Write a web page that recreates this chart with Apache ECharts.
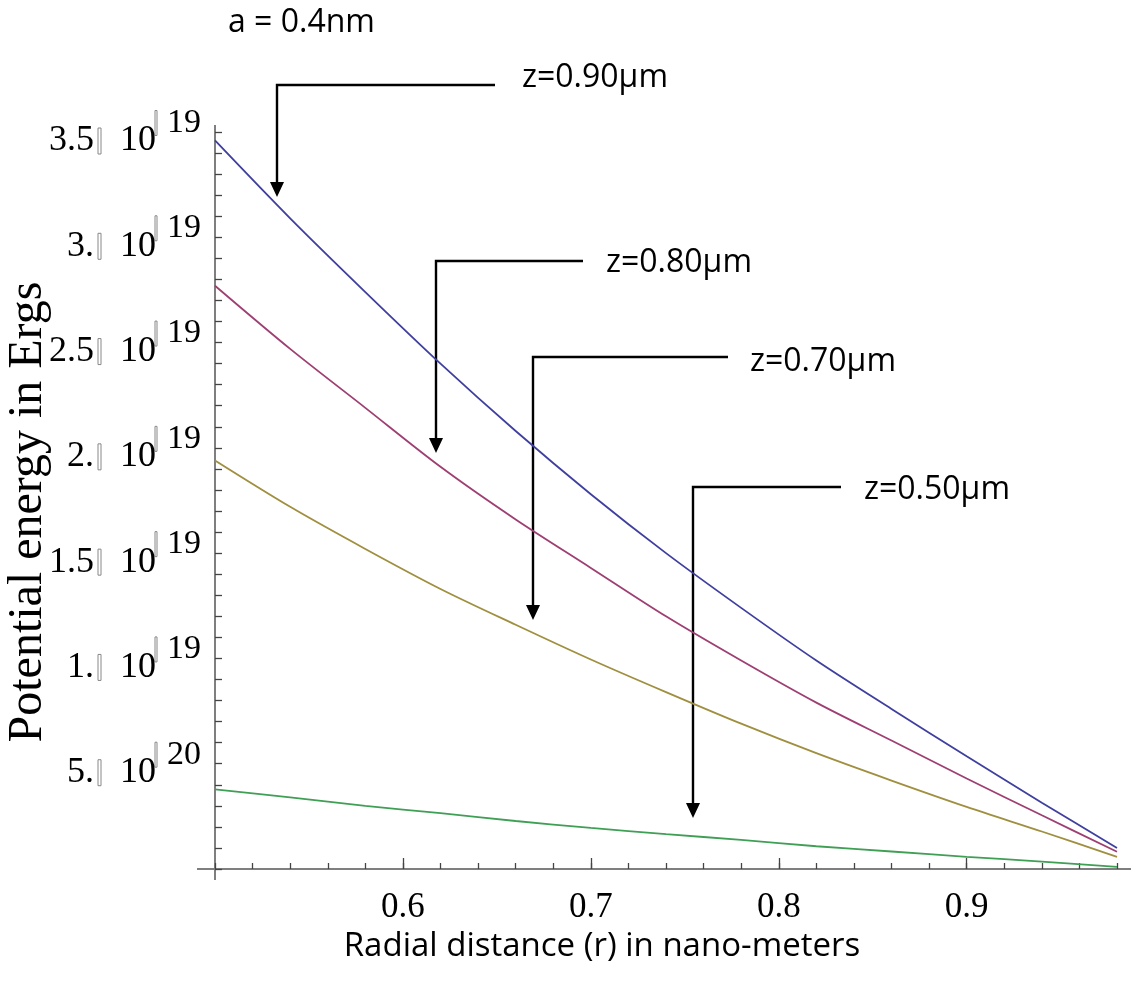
<!DOCTYPE html>
<html>
<head>
<meta charset="utf-8">
<script src="https://cdn.jsdelivr.net/npm/echarts@6/dist/echarts.min.js"></script>
<style>
  html, body { margin: 0; padding: 0; background: #ffffff; }
  #chart { width: 1131px; height: 994px; }
</style>
</head>
<body>
<div id="chart"></div>
<script>
// Radial distance r (nm) at which each curve is sampled
const radius = [0.50, 0.54, 0.58, 0.62, 0.66, 0.70, 0.74, 0.78, 0.82, 0.86, 0.90, 0.94, 0.98];

// Potential energy, in units of 1e-19 erg, for each separation z
const energyZ090 = [3.46, 3.09, 2.74, 2.40, 2.08, 1.78, 1.50, 1.24, 0.99, 0.76, 0.535, 0.315, 0.10];
const energyZ080 = [2.77, 2.47, 2.19, 1.91, 1.66, 1.43, 1.20, 0.99, 0.79, 0.61, 0.43, 0.255, 0.082];
const energyZ070 = [1.94, 1.72, 1.52, 1.33, 1.16, 0.995, 0.84, 0.69, 0.55, 0.42, 0.295, 0.178, 0.058];
const energyZ050 = [0.378, 0.34, 0.30, 0.265, 0.228, 0.195, 0.166, 0.138, 0.108, 0.083, 0.058, 0.035, 0.010];

const seriesNames = ['z=0.90µm', 'z=0.80µm', 'z=0.70µm', 'z=0.50µm'];
const seriesColors = ['#3f3f9f', '#9e3f72', '#9f8f3f', '#3f9f55'];

// Axis ticks and their labels
const xMajorTicks = [0.6, 0.7, 0.8, 0.9];
const yTickValues = [0.5, 1.0, 1.5, 2.0, 2.5, 3.0, 3.5];
const yTickMantissa = ['5.', '1.', '1.5', '2.', '2.5', '3.', '3.5'];
const yTickExponent = ['20', '19', '19', '19', '19', '19', '19'];

const serif = 'Liberation Serif';
const sans = 'Open Sans';

const chart = echarts.init(document.getElementById('chart'), null, { renderer: 'canvas' });

function yLabel(value) {
  const i = yTickValues.findIndex(t => Math.abs(t - value) < 1e-6);
  if (i < 0) return '';
  return '{sb|}{g2|}{sup|' + yTickExponent[i] + '}\n' +
         '{m|' + yTickMantissa[i] + '}{g0|}{bx|}{g1|}{m|10}{tail|}';
}

const lineSeries = [energyZ090, energyZ080, energyZ070, energyZ050].map((vals, k) => ({
  name: seriesNames[k],
  type: 'line',
  xAxisIndex: 0,
  yAxisIndex: 0,
  smooth: 0.3,
  showSymbol: false,
  silent: true,
  lineStyle: { color: seriesColors[k], width: 1.8 },
  data: radius.map((r, j) => [r, vals[j]])
}));

// Annotation arrows: a bent leader line ending in a filled arrowhead
function arrow(xLabelEnd, yTop, xDown, yTip) {
  return [
    {
      type: 'polyline', silent: true,
      shape: { points: [[xLabelEnd, yTop], [xDown, yTop], [xDown, yTip - 12]] },
      style: { stroke: '#000', lineWidth: 2.4, fill: null }
    },
    {
      type: 'polygon', silent: true,
      shape: { points: [[xDown - 7, yTip - 15], [xDown + 7, yTip - 15], [xDown, yTip]] },
      style: { fill: '#000' }
    }
  ];
}

function note(text, x, y) {
  return {
    type: 'text', silent: true, x: x, y: y,
    style: { text: text, fill: '#000', font: '32px "' + sans + '"', textVerticalAlign: 'middle', textAlign: 'left' }
  };
}

const axisGray = '#7f7f7f';

chart.setOption({
  animation: false,
  backgroundColor: '#ffffff',
  grid: { left: 215, right: 14, top: 132, bottom: 125, containLabel: false, outerBoundsMode: 'none' },
  xAxis: [
    {
      type: 'value', min: 0.5, max: 0.98, position: 'bottom',
      axisLine: { show: true, onZero: false, lineStyle: { color: axisGray, width: 2 } },
      axisTick: { show: true, inside: true, length: 11, customValues: xMajorTicks,
                  lineStyle: { color: '#444', width: 1.3 } },
      axisLabel: { show: true, customValues: xMajorTicks, margin: 21,
                   formatter: v => v.toFixed(1),
                   fontFamily: serif, fontSize: 35, color: '#000' },
      splitLine: { show: false },
      name: 'Radial distance (r) in nano-meters',
      nameLocation: 'middle', nameGap: 60,
      nameTextStyle: { fontFamily: sans, fontSize: 33, color: '#000', padding: [0, 128, 0, 0] }
    },
    {
      type: 'value', min: 0.5, max: 0.98, interval: 0.02, position: 'bottom',
      axisLine: { show: false },
      axisTick: { show: true, inside: true, length: 6, lineStyle: { color: '#444', width: 1.3 } },
      axisLabel: { show: false },
      splitLine: { show: false }
    }
  ],
  yAxis: {
    type: 'value', min: 0, max: 3.5, interval: 0.1,
    axisLine: { show: true, onZero: false, lineStyle: { color: axisGray, width: 2 } },
    axisTick: { show: true, inside: true, length: 7, lineStyle: { color: '#444', width: 1.3 } },
    splitLine: { show: false },
    axisLabel: {
      margin: 14, formatter: yLabel, color: '#000',
      rich: {
        m:   { fontFamily: serif, fontSize: 36, lineHeight: 18, color: '#000' },
        sup: { fontFamily: serif, fontSize: 34, lineHeight: 18, color: '#000' },
        bx:  { width: 3, height: 26, lineHeight: 18, borderColor: '#888', borderWidth: 1 },
        sb:  { width: 2, height: 25, lineHeight: 18, borderColor: '#888', borderWidth: 1 },
        g0:  { width: 4, height: 1, lineHeight: 18 },
        g1:  { width: 19, height: 1, lineHeight: 18 },
        g2:  { width: 10, height: 1, lineHeight: 18 },
        tail:{ width: 45, height: 1, lineHeight: 18 }
      }
    }
  },
  series: lineSeries,
  graphic: [
    // vertical axis title
    {
      type: 'text', silent: true, x: 28, y: 512, rotation: Math.PI / 2,
      style: { text: 'Potential energy in Ergs', fill: '#000', font: '48px "' + serif + '"',
               textAlign: 'center', textVerticalAlign: 'middle' }
    },
    // axis overhangs past the plotting range
    { type: 'line', silent: true, shape: { x1: 215, y1: 125, x2: 215, y2: 132 }, style: { stroke: axisGray, lineWidth: 2 } },
    { type: 'line', silent: true, shape: { x1: 215, y1: 869, x2: 215, y2: 880 }, style: { stroke: axisGray, lineWidth: 2 } },
    { type: 'line', silent: true, shape: { x1: 197, y1: 869, x2: 215, y2: 869 }, style: { stroke: axisGray, lineWidth: 2 } },
    { type: 'line', silent: true, shape: { x1: 1117, y1: 869, x2: 1131, y2: 869 }, style: { stroke: axisGray, lineWidth: 2 } },
    note('a = 0.4nm', 228, 23),
    ...arrow(495, 85, 277, 197),
    note(seriesNames[0], 522, 78),
    ...arrow(583, 261, 436, 453),
    note(seriesNames[1], 606, 263),
    ...arrow(728, 357, 533, 620),
    note(seriesNames[2], 750, 362),
    ...arrow(841, 487, 693, 818),
    note(seriesNames[3], 864, 490)
  ]
});
</script>
</body>
</html>
